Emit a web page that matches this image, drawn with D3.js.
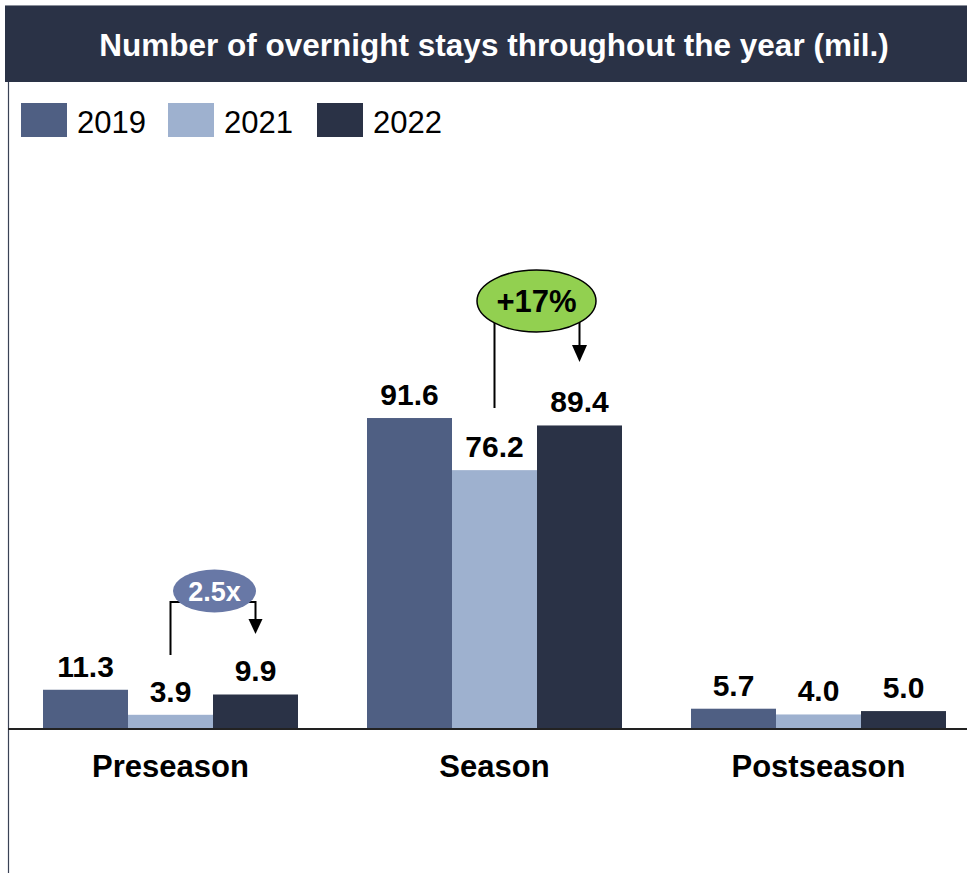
<!DOCTYPE html>
<html>
<head>
<meta charset="utf-8">
<script src="https://cdn.jsdelivr.net/npm/d3@7"></script>
<style>
  html, body { margin: 0; padding: 0; background: #ffffff; }
  svg { display: block; font-family: "Liberation Sans", Arial, Helvetica, sans-serif; }
</style>
</head>
<body>
<svg id="chart" width="967" height="873"></svg>
<script>
// Overnight stays by season (millions)
const categories = ["Preseason", "Season", "Postseason"];
const years = ["2019", "2021", "2022"];
const values2019 = [11.3, 91.6, 5.7];
const values2021 = [3.9, 76.2, 4.0];
const values2022 = [9.9, 89.4, 5.0];
const seriesColors = ["#4f5f83", "#9eb1cf", "#2a3246"];
const titleText = "Number of overnight stays throughout the year (mil.)";

const series = [values2019, values2021, values2022];

const svg = d3.select("#chart");
const W = 967, H = 873;

// Header band
svg.append("rect").attr("x", 5).attr("y", 5).attr("width", W - 5).attr("height", 77)
  .attr("fill", "#2a3246");
svg.append("line").attr("x1", 5).attr("x2", W).attr("y1", 5.5).attr("y2", 5.5)
  .attr("stroke", "#8a8f9a").attr("stroke-width", 1);
svg.append("text").attr("x", 494).attr("y", 56)
  .attr("text-anchor", "middle").attr("fill", "#ffffff")
  .attr("font-size", 31.5).attr("font-weight", "bold").text(titleText);

// Left frame line
svg.append("line").attr("x1", 8.5).attr("x2", 8.5).attr("y1", 82).attr("y2", H)
  .attr("stroke", "#3a4256").attr("stroke-width", 1.2);

// Legend
const legend = svg.append("g");
const legendX = [21, 168, 317];
years.forEach((y, i) => {
  legend.append("rect").attr("x", legendX[i]).attr("y", 103).attr("width", 46).attr("height", 34)
    .attr("fill", seriesColors[i]);
  legend.append("text").attr("x", legendX[i] + 56).attr("y", 133)
    .attr("font-size", 31).attr("fill", "#000").text(y);
});

// Scales
const baseY = 728;
const step = 324;
const x = d3.scaleBand().domain(categories)
  .range([8.5, 8.5 + 3 * step])
  .paddingInner(69 / step).paddingOuter(34.5 / step);
const xInner = d3.scaleBand().domain(years).range([0, x.bandwidth()]);
const yScale = d3.scaleLinear().domain([0, 100]).range([baseY, baseY - 338.4]);

// Bars and value labels
const groups = svg.append("g").selectAll("g").data(categories).join("g")
  .attr("transform", c => `translate(${x(c)},0)`);

years.forEach((yr, si) => {
  groups.append("rect")
    .attr("x", xInner(yr))
    .attr("width", xInner.bandwidth())
    .attr("y", (c, ci) => yScale(series[si][ci]))
    .attr("height", (c, ci) => baseY - yScale(series[si][ci]))
    .attr("fill", seriesColors[si]);
  groups.append("text")
    .attr("x", xInner(yr) + xInner.bandwidth() / 2)
    .attr("y", (c, ci) => yScale(series[si][ci]) - 13)
    .attr("text-anchor", "middle")
    .attr("font-size", 30).attr("font-weight", "bold").attr("fill", "#000")
    .text((c, ci) => series[si][ci].toFixed(1));
});

// Baseline axis
svg.append("line").attr("x1", 8).attr("x2", W).attr("y1", baseY + 1).attr("y2", baseY + 1)
  .attr("stroke", "#222").attr("stroke-width", 2);

// Category labels
svg.append("g").selectAll("text").data(categories).join("text")
  .attr("x", c => x(c) + x.bandwidth() / 2)
  .attr("y", 777)
  .attr("text-anchor", "middle")
  .attr("font-size", 31).attr("font-weight", "bold").attr("fill", "#000")
  .text(c => c);

function barCenter(ci, si) {
  return x(categories[ci]) + xInner(years[si]) + xInner.bandwidth() / 2;
}

// Change callouts from 2021 to 2022: ratio for Preseason, growth for Season
function callout(ci, label, o) {
  const xl = barCenter(ci, 1);
  const xr = barCenter(ci, 2);
  const g = svg.append("g");
  g.append("path")
    .attr("d", `M${xl},${o.startY} V${o.joinY} H${o.cx} H${xr} V${o.endY - o.ah}`)
    .attr("fill", "none").attr("stroke", "#000").attr("stroke-width", 2);
  g.append("path")
    .attr("d", `M${xr - o.aw / 2},${o.endY - o.ah} L${xr + o.aw / 2},${o.endY - o.ah} L${xr},${o.endY} Z`)
    .attr("fill", "#000");
  g.append("ellipse").attr("cx", o.cx).attr("cy", o.cy).attr("rx", o.rx).attr("ry", o.ry)
    .attr("fill", o.fill).attr("stroke", o.stroke || "none").attr("stroke-width", 1.5);
  g.append("text").attr("x", o.cx).attr("y", o.cy + o.fs * 0.36)
    .attr("text-anchor", "middle").attr("font-size", o.fs).attr("font-weight", "bold")
    .attr("fill", o.textFill).text(label);
}

const ratioPre = values2022[0] / values2021[0];
const growthSeason = values2022[1] / values2021[1] - 1;

callout(0, ratioPre.toFixed(1) + "x", {
  startY: 655, joinY: 602, endY: 634, ah: 15, aw: 14,
  cx: 214.5, cy: 591, rx: 41.5, ry: 21.5,
  fill: "#6878a6", textFill: "#ffffff", fs: 27
});
callout(1, "+" + Math.round(growthSeason * 100) + "%", {
  startY: 408, joinY: 318, endY: 362, ah: 17, aw: 15,
  cx: 536.5, cy: 301, rx: 59.5, ry: 31,
  fill: "#92d050", stroke: "#000", textFill: "#000", fs: 31
});
</script>
</body>
</html>
